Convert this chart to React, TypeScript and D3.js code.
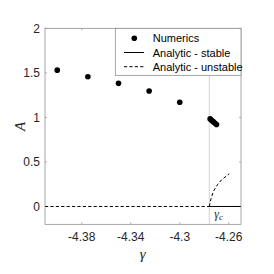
import React from 'react';
import * as d3 from 'd3';

// numerics (dots)
const numGamma = [-4.4, -4.375, -4.35, -4.325, -4.3, -4.2752, -4.274, -4.2727, -4.2714, -4.27];
const numA = [1.53, 1.457, 1.383, 1.297, 1.17, 0.983, 0.968, 0.952, 0.936, 0.92];

// analytic unstable branch
const unstGamma = [-4.2759, -4.2747, -4.2726, -4.2693, -4.2658, -4.2596];
const unstA = [0, 0.075, 0.168, 0.243, 0.3, 0.367];

const gammaC = -4.2759;
const xTicks = [-4.38, -4.34, -4.3, -4.26];
const yTicks = [0, 0.5, 1, 1.5, 2];
const legendLabels = ['Numerics', 'Analytic - stable', 'Analytic - unstable'];

export default function App() {
  const W = 274, H = 274;
  const margin = { left: 45, top: 28.3, right: 33, bottom: 49.7 };
  const x = d3.scaleLinear().domain([-4.41, -4.25]).range([margin.left, W - margin.right]);
  const y = d3.scaleLinear().domain([-0.2, 2]).range([H - margin.bottom, margin.top]);
  const [x0, x1] = x.range();
  const [y0, y1] = y.range();

  const line = d3.line<number>()
    .x((d, i) => x(unstGamma[i]))
    .y(d => y(d));

  const axisColor = '#808080';
  const textColor = '#262626';
  const tickFont = 'Liberation Sans, Arial, sans-serif';
  const serif = 'Liberation Serif, Times New Roman, serif';
  const tl = 2;
  const dash = '3.2,2.2';

  return (
    <svg width={W} height={H} style={{ position: 'absolute', left: 0, top: 0, background: '#fff' }}>
      {/* gamma_c marker line */}
      <line x1={x(gammaC)} x2={x(gammaC)} y1={y1} y2={y0} stroke="#c8c8c8" strokeWidth={0.8} />

      {/* ticks inward on all sides */}
      {xTicks.map(t => (
        <g key={'xt' + t}>
          <line x1={x(t)} x2={x(t)} y1={y0} y2={y0 - tl} stroke={axisColor} strokeWidth={0.6} />
          <line x1={x(t)} x2={x(t)} y1={y1} y2={y1 + tl} stroke={axisColor} strokeWidth={0.6} />
          <text x={x(t)} y={y0 + 17} textAnchor="middle" fontSize={12} fontFamily={tickFont} fill={textColor}>{t}</text>
        </g>
      ))}
      {yTicks.map(t => (
        <g key={'yt' + t}>
          <line x1={x0} x2={x0 + tl} y1={y(t)} y2={y(t)} stroke={axisColor} strokeWidth={0.6} />
          <line x1={x1} x2={x1 - tl} y1={y(t)} y2={y(t)} stroke={axisColor} strokeWidth={0.6} />
          <text x={x0 - 5} y={y(t) + 4.2} textAnchor="end" fontSize={12} fontFamily={tickFont} fill={textColor}>{t}</text>
        </g>
      ))}

      {/* trivial branch */}
      <line x1={x0} x2={x(gammaC)} y1={y(0)} y2={y(0)} stroke="#000" strokeWidth={1} strokeDasharray={dash} />
      <line x1={x(gammaC)} x2={x1} y1={y(0)} y2={y(0)} stroke="#000" strokeWidth={1} />
      {/* unstable branch */}
      <path d={line(unstA) || ''} fill="none" stroke="#000" strokeWidth={1} strokeDasharray={dash} />

      {/* numerics */}
      {numGamma.map((g, i) => (
        <circle key={'n' + i} cx={x(g)} cy={y(numA[i])} r={2.8} fill="#000" />
      ))}

      {/* axes box */}
      <rect x={x0} y={y1} width={x1 - x0} height={y0 - y1} fill="none" stroke={axisColor} strokeWidth={0.7} />

      {/* gamma_c label */}
      <text x={x(gammaC) + 5} y={y(0) + 12} fontSize={12} fontStyle="italic" fontFamily={serif} fill={textColor}>
        γ<tspan fontSize={9} dy={2}>c</tspan>
      </text>

      {/* legend */}
      <g>
        <rect x={115.3} y={y1} width={x1 - 115.3} height={47} fill="#fff" stroke={axisColor} strokeWidth={0.7} />
        {legendLabels.map((lab, i) => {
          const cy = 38.3 + i * 14.2;
          return (
            <g key={lab}>
              {i === 0 && <circle cx={134.3} cy={cy} r={2.8} fill="#000" />}
              {i === 1 && <line x1={124} x2={144} y1={cy} y2={cy} stroke="#000" strokeWidth={1} />}
              {i === 2 && <line x1={124} x2={144} y1={cy} y2={cy} stroke="#000" strokeWidth={1} strokeDasharray={dash} />}
              <text x={152.7} y={cy + 4} fontSize={11} fontFamily={tickFont} fill="#000">{lab}</text>
            </g>
          );
        })}
      </g>

      {/* axis labels */}
      <text x={142.7} y={259} textAnchor="middle" fontSize={15} fontStyle="italic" fontFamily={serif} fill={textColor}>γ</text>
      <text transform={`translate(25,${(y0 + y1) / 2}) rotate(-90)`} textAnchor="middle" fontSize={15} fontStyle="italic" fontFamily={serif} fill={textColor}>A</text>
    </svg>
  );
}
